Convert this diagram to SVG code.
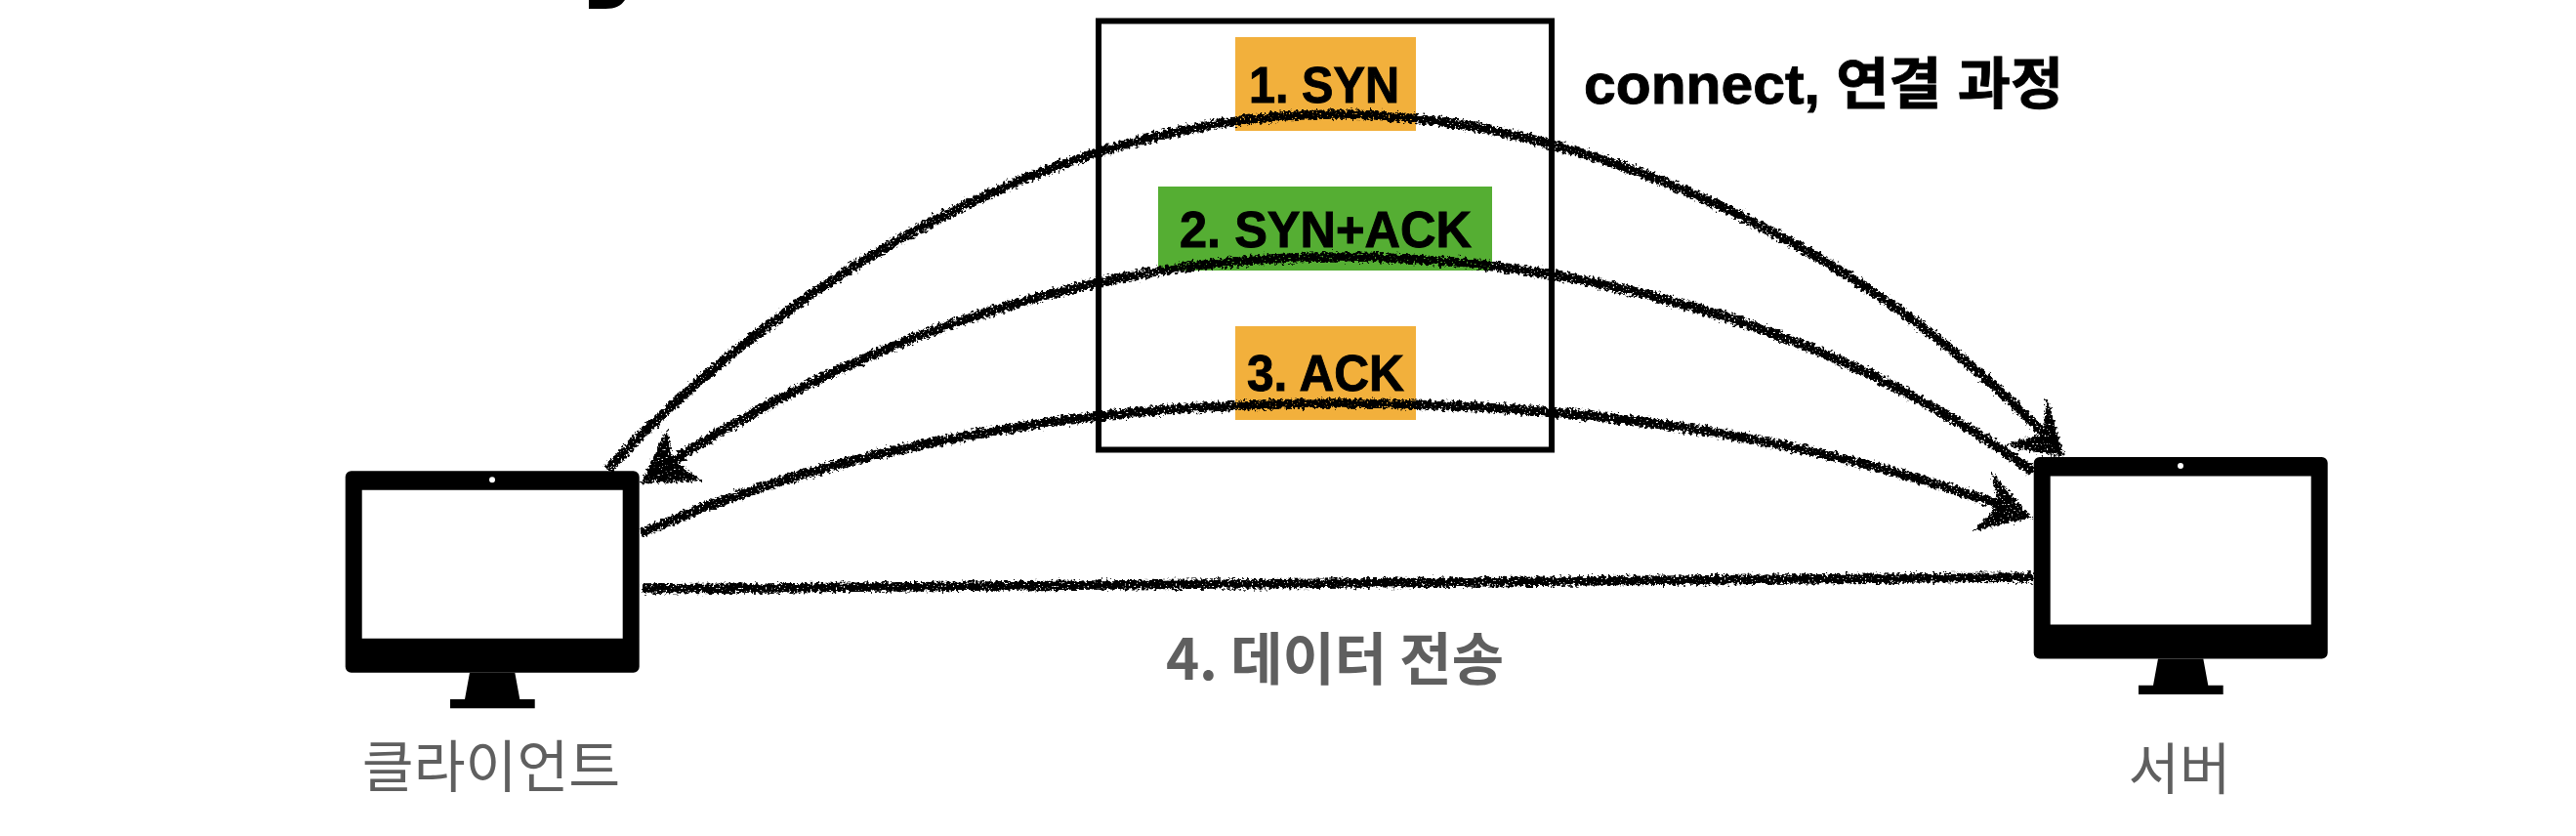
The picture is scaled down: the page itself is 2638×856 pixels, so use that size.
<svg xmlns="http://www.w3.org/2000/svg" width="2638" height="856" viewBox="0 0 2638 856">
<style>
.lbl{font-family:"Liberation Sans","Noto Sans CJK KR",sans-serif;font-weight:700;fill:#000;stroke:#000;stroke-width:.9}
.cap{font-family:"Noto Sans CJK KR","Liberation Sans",sans-serif;fill:#5f5f5f;text-anchor:middle}
.wire{fill:none;stroke:#000;stroke-width:9.500;stroke-linecap:butt}
.head{fill:#000;stroke:#000;stroke-width:1}
</style>
<defs>
<filter id="chalk" filterUnits="userSpaceOnUse" x="0" y="0" width="2638" height="856" color-interpolation-filters="sRGB">
<feTurbulence type="fractalNoise" baseFrequency="0.3" numOctaves="3" seed="4" result="n"/>
<feDisplacementMap in="SourceGraphic" in2="n" scale="9" xChannelSelector="R" yChannelSelector="G" result="d"/>
<feTurbulence type="fractalNoise" baseFrequency="0.5" numOctaves="2" seed="11"/>
<feColorMatrix type="matrix" values="0 0 0 0 0 0 0 0 0 0 0 0 0 0 0 0 0 0 12 -8" result="h"/>
<feComposite in="d" in2="h" operator="out"/>
</filter>
<g id="monitor">
<path fill-rule="evenodd" d="M359.700 482.300H648.700a6 6 0 0 1 6 6V682.700a6 6 0 0 1-6 6H359.700a6 6 0 0 1-6-6V488.300a6 6 0 0 1 6-6ZM370.700 501.700V653.700H637.700V501.700Z"/>
<circle cx="504" cy="491.300" r="3" fill="#fff"/>
<path d="M481 688.700H527.300L532.300 716H547.700V725.300H461V716H476Z"/>
</g>
</defs>
<rect width="2638" height="856" fill="#fff"/>
<path id="title-fragment" d="M603 0H640C636 6 630 9 620 9H603Z"/>
<g id="handshake-box">
<rect x="1125" y="21.500" width="464" height="439" fill="none" stroke="#000" stroke-width="6"/>
</g>
<g id="step-1">
<rect x="1265" y="38" width="185" height="96" fill="#f2b03c"/>
<text class="lbl" x="1279" y="105" font-size="51" textLength="154" lengthAdjust="spacingAndGlyphs">1. SYN</text>
</g>
<g id="step-2">
<rect x="1186" y="191" width="342" height="86" fill="#55ae33"/>
<text class="lbl" x="1208" y="253" font-size="51" textLength="299" lengthAdjust="spacingAndGlyphs">2. SYN+ACK</text>
</g>
<g id="step-3">
<rect x="1265" y="334" width="185" height="96" fill="#f2b03c"/>
<text class="lbl" x="1277" y="400" font-size="51" textLength="161" lengthAdjust="spacingAndGlyphs">3. ACK</text>
</g>
<g id="connect-label">
<text class="lbl" x="1622" y="106" font-size="57" textLength="491" lengthAdjust="spacingAndGlyphs">connect, 연결 과정</text>
</g>
<g id="connectors" filter="url(#chalk)">
<path class="wire" d="M623 480C800 290 1080 117 1368 117C1640 117 1930 270 2098 450"/>
<polygon class="head" points="2113,467 2096,408 2093,445 2054,455 2085,463"/>
<path class="wire" d="M2082 483C1900 350 1650 263 1368 263C1100 263 860 360 680 478"/>
<polygon class="head" points="657,494 683,440 688,470 717,492"/>
<path class="wire" d="M657 546C850 460 1100 413 1368 413C1620 413 1850 445 2055 520"/>
<polygon class="head" points="2080,530 2040,485 2048,517 2021,543"/>
<path class="wire" d="M657 603L2082 591"/>
</g>
<g id="data-label">
<text class="cap" x="1367" y="696" font-size="58" font-weight="700">4. 데이터 전송</text>
</g>
<g id="client">
<use href="#monitor"/>
<text class="cap" x="503" y="806" font-size="57.500">클라이언트</text>
</g>
<g id="server">
<use href="#monitor" x="1729" y="-14.300"/>
<text class="cap" x="2232" y="808" font-size="57">서버</text>
</g>
</svg>
